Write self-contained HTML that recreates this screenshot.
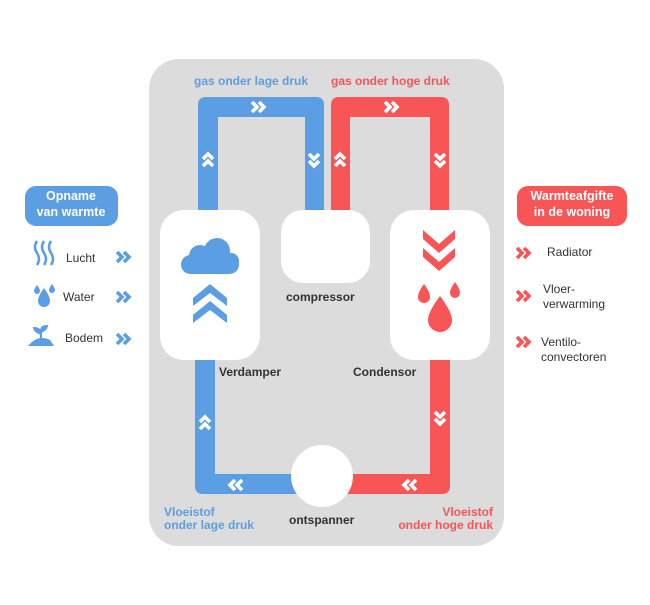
<!DOCTYPE html>
<html><head><meta charset="utf-8"><style>
body{margin:0;background:#fff;width:650px;height:600px;overflow:hidden}
text{font-family:"Liberation Sans",sans-serif}
</style></head><body>
<svg width="650" height="600" viewBox="0 0 650 600" xmlns="http://www.w3.org/2000/svg">
<defs>
<g id="chev"><path d="M-6,-5 L-1,0 L-6,5 M1,-5 L6,0 L1,5" fill="none" stroke-width="3.6" stroke-linejoin="miter"/></g>
</defs>
<rect x="149" y="59" width="355" height="487" rx="30" fill="#dcdcdc"/>
<path d="M198,215 V105 Q198,97 206,97 H316 Q324,97 324,105 V215 H305 V117 H218 V215Z" fill="#5b9ee4"/>
<path d="M195,355 V486 Q195,494 203,494 H320 V474 H215 V355Z" fill="#5b9ee4"/>
<path d="M331,215 V105 Q331,97 339,97 H441 Q449,97 449,105 V215 H430 V117 H350 V215Z" fill="#f75556"/>
<path d="M450,355 V486 Q450,494 442,494 H325 V474 H430 V355Z" fill="#f75556"/>
<g stroke="#fff">
<use href="#chev" x="258" y="107"/>
<use href="#chev" x="391" y="107"/>
<use href="#chev" transform="translate(208,160) rotate(-90)"/>
<use href="#chev" transform="translate(314,160) rotate(90)"/>
<use href="#chev" transform="translate(340,160) rotate(-90)"/>
<use href="#chev" transform="translate(440,160) rotate(90)"/>
<use href="#chev" transform="translate(205,423) rotate(-90)"/>
<use href="#chev" transform="translate(440,418) rotate(90)"/>
<use href="#chev" transform="translate(236,485) rotate(180)"/>
<use href="#chev" transform="translate(410,485) rotate(180)"/>
</g>
<rect x="160" y="210" width="100" height="150" rx="24" fill="#fff"/>
<rect x="281" y="210" width="89" height="73" rx="22" fill="#fff"/>
<rect x="390" y="210" width="100" height="150" rx="24" fill="#fff"/>
<circle cx="322" cy="476" r="31" fill="#fff"/>
<g fill="#5b9ee4">
<rect x="181" y="255" width="58" height="19" rx="9.5"/>
<circle cx="200" cy="256" r="11"/>
<circle cx="217" cy="251" r="13"/>
<circle cx="231" cy="261" r="8"/>
<path d="M193,298 L210,284 L227,298 V306 L210,293 L193,306Z"/>
<path d="M193,315 L210,301 L227,315 V323 L210,310 L193,323Z"/>
</g>
<g fill="#f75556">
<path d="M423,230 L439,244 L455,230 V239 L439,253 L423,239Z"/>
<path d="M423,248 L439,262 L455,248 V257 L439,271 L423,257Z"/>
<path d="M424,284 Q430,292 430,297 A6,6 0 0 1 418,297 Q418,292 424,284Z"/>
<path d="M455,282 Q460,289 460,293 A5,5 0 0 1 450,293 Q450,289 455,282Z"/>
<path d="M440,296 Q452,312 452,320 A12,12 0 0 1 428,320 Q428,312 440,296Z"/>
</g>
<g font-weight="bold" font-size="12">
<text x="194" y="85" fill="#5b9ee4">gas onder lage druk</text>
<text x="331" y="85" fill="#f75556">gas onder hoge druk</text>
<text x="286" y="301" fill="#333">compressor</text>
<text x="219" y="376" fill="#333">Verdamper</text>
<text x="353" y="376" fill="#333">Condensor</text>
<text x="289" y="524" fill="#333">ontspanner</text>
<text x="164" y="516" fill="#5b9ee4">Vloeistof</text>
<text x="164" y="529" fill="#5b9ee4">onder lage druk</text>
<text x="493" y="516" fill="#f75556" text-anchor="end">Vloeistof</text>
<text x="493" y="529" fill="#f75556" text-anchor="end">onder hoge druk</text>
</g>
<rect x="25" y="186" width="93" height="40" rx="11" fill="#5b9ee4"/>
<text x="71" y="200" fill="#fff" font-weight="bold" font-size="12.5" text-anchor="middle">Opname</text>
<text x="71" y="216" fill="#fff" font-weight="bold" font-size="12.5" text-anchor="middle">van warmte</text>
<g fill="none" stroke="#5b9ee4" stroke-width="2.5">
<path d="M37,241 q-4,6 0,12 q4,6 0,12"/>
<path d="M44,241 q-4,6 0,12 q4,6 0,12"/>
<path d="M51,241 q-4,6 0,12 q4,6 0,12"/>
</g>
<g fill="#5b9ee4">
<path d="M44,288 Q50,296 50,301 A6,6 0 0 1 38,301 Q38,296 44,288Z"/>
<path d="M37,285 Q40,289 40,291 A3,3 0 0 1 34,291 Q34,289 37,285Z"/>
<path d="M52,284 Q55,288 55,290 A3,3 0 0 1 49,290 Q49,288 52,284Z"/>
<path d="M28,346 Q38,334 50,340 L54,346Z"/>
<path d="M41,340 V330 M41,334 q-6,-2 -7,-6 q6,0 7,5 M41,332 q5,-2 6,-6 q-6,0 -6,5" stroke="#5b9ee4" stroke-width="2"/>
</g>
<g font-size="12" fill="#333">
<text x="66" y="262">Lucht</text>
<text x="63" y="301">Water</text>
<text x="65" y="342">Bodem</text>
</g>
<g stroke="#5b9ee4">
<use href="#chev" x="123" y="257"/>
<use href="#chev" x="123" y="297"/>
<use href="#chev" x="123" y="339"/>
</g>
<rect x="517" y="186" width="110" height="40" rx="11" fill="#f75556"/>
<text x="572" y="200" fill="#fff" font-weight="bold" font-size="12.5" text-anchor="middle">Warmteafgifte</text>
<text x="572" y="216" fill="#fff" font-weight="bold" font-size="12.5" text-anchor="middle">in de woning</text>
<g stroke="#f75556">
<use href="#chev" x="523" y="253"/>
<use href="#chev" x="523" y="296"/>
<use href="#chev" x="523" y="342"/>
</g>
<g font-size="12" fill="#333">
<text x="547" y="256">Radiator</text>
<text x="543" y="293">Vloer-</text>
<text x="543" y="308">verwarming</text>
<text x="541" y="346">Ventilo-</text>
<text x="541" y="361">convectoren</text>
</g>
</svg>
</body></html>
